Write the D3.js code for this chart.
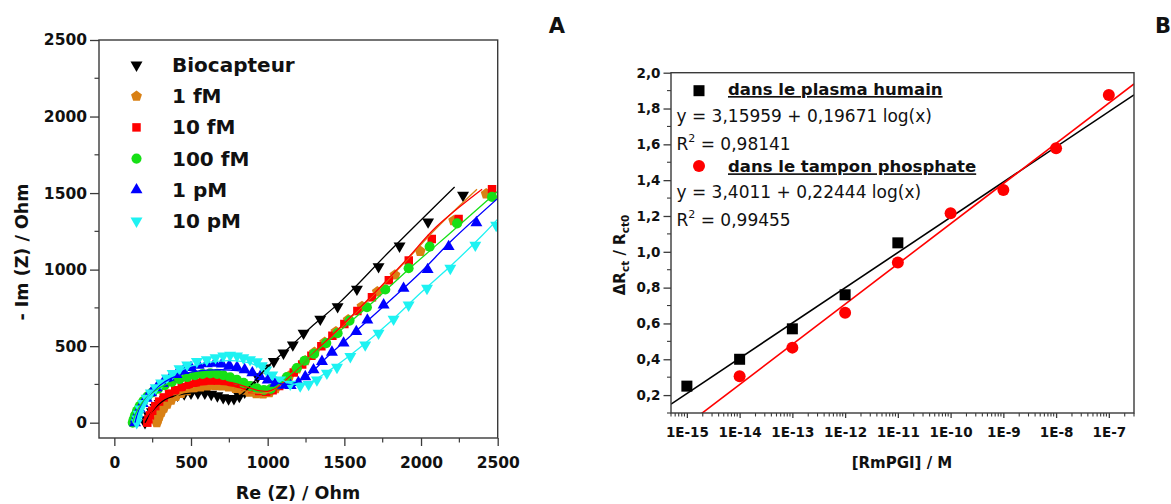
<!DOCTYPE html>
<html><head><meta charset="utf-8">
<script src="https://cdn.jsdelivr.net/npm/d3@7"></script>
<style>
html,body{margin:0;padding:0;background:#fff;}
svg{display:block;}
text{font-family:"DejaVu Sans",sans-serif;fill:#111;}
</style></head><body>
<svg id="chart" width="1171" height="504"></svg>
<script>
// ---------- Panel A data: Nyquist plots [Re(Z), -Im(Z)] ----------
const seriesNames = ["Biocapteur","1 fM","10 fM","100 fM","1 pM","10 pM"];
const seriesColors = ["#000000","#d98014","#ff0000","#16e016","#0000ff","#1ef2f2"];
const seriesSymbols = ["down","pentagon","square","circle","up","down"];

const bioData = [[200,0],[212,20],[226,45],[245,72],[268,100],[296,126],[330,150],[370,168],[412,180],[456,188],[500,193],[545,195],[590,193],[632,186],[672,176],[710,164],[745,156],[780,158],[815,172],[850,200],[890,245],[935,300],[984,357],[1040,400],[1103,455],[1164,508],[1234,585],[1343,676],[1456,758],[1582,872],[1723,1019],[1860,1154],[2046,1312],[2274,1486]];
const fmData1 = [[277,0],[283,20],[292,42],[305,68],[322,95],[344,122],[370,148],[400,172],[435,192],[475,210],[518,224],[562,234],[608,240],[655,242],[700,240],[745,234],[790,225],[835,213],[880,200],[925,190],[970,188],[1010,196],[1050,222],[1095,262],[1140,305],[1190,352],[1245,405],[1305,460],[1372,525],[1445,595],[1525,672],[1615,760],[1715,855],[1830,965],[1995,1120],[2213,1320],[2425,1495]];
const fmData10 = [[215,0],[222,22],[232,48],[247,78],[267,108],[292,138],[322,165],[357,190],[397,212],[440,232],[485,248],[532,261],[580,270],[628,275],[675,275],[720,270],[765,262],[810,250],[855,235],[900,220],[945,207],[990,202],[1032,212],[1075,240],[1120,280],[1170,328],[1225,380],[1285,438],[1350,500],[1422,568],[1500,645],[1585,730],[1680,820],[1790,930],[1920,1060],[2070,1200],[2245,1330],[2463,1525]];
const fmData100 = [[120,0],[126,22],[135,48],[148,78],[165,108],[188,140],[215,170],[248,198],[285,222],[328,245],[375,266],[425,284],[475,298],[525,310],[575,318],[625,322],[670,319],[711,310],[755,296],[799,280],[843,260],[886,240],[930,224],[975,214],[1020,220],[1065,250],[1125,298],[1190,357],[1240,405],[1303,450],[1382,520],[1456,585],[1534,667],[1647,754],[1767,870],[1919,1009],[2056,1150],[2235,1302],[2463,1475]];
const pmData1 = [[135,0],[140,25],[150,55],[165,90],[185,125],[210,160],[240,195],[275,228],[315,258],[360,288],[405,315],[450,340],[500,360],[550,375],[603,385],[655,388],[701,383],[750,374],[800,362],[850,346],[900,326],[951,302],[1000,278],[1050,258],[1100,245],[1150,242],[1200,262],[1245,300],[1299,345],[1354,400],[1419,460],[1495,520],[1578,595],[1650,670],[1756,769],[1886,878],[2043,1000],[2180,1150],[2361,1306]];
const pmData10 = [[146,0],[150,25],[158,55],[170,90],[188,125],[210,160],[238,195],[270,228],[305,260],[342,292],[380,322],[425,352],[475,378],[538,400],[603,412],[660,425],[710,436],[755,441],[800,436],[841,424],[885,412],[929,398],[962,372],[990,345],[1030,312],[1082,280],[1147,252],[1212,240],[1267,250],[1321,280],[1386,324],[1452,362],[1539,432],[1636,508],[1723,585],[1821,676],[1919,769],[2039,878],[2191,1009],[2354,1160],[2490,1290]];

// fitted curves
const bioFit = [[200,0],[245,72],[330,150],[456,188],[590,193],[700,168],[760,160],[820,178],[900,255],[1000,365],[1150,500],[1300,640],[1475,791],[1800,1125],[2219,1540]];
const fmFit1 = [[277,0],[305,68],[370,148],[475,210],[608,240],[700,240],[790,225],[880,202],[960,192],[1020,205],[1080,245],[1160,320],[1300,455],[1500,645],[1700,845],[1900,1055],[2100,1270],[2365,1525]];
const fmFit10 = [[215,0],[247,78],[322,165],[440,232],[580,270],[675,275],[765,262],[855,236],[940,210],[1000,205],[1060,230],[1140,300],[1300,455],[1500,650],[1700,850],[1900,1060],[2100,1280],[2398,1525]];
const fmFit100 = [[120,0],[148,78],[215,170],[328,245],[475,298],[625,322],[711,310],[799,280],[886,242],[975,218],[1040,228],[1125,295],[1300,450],[1500,625],[1700,800],[1900,985],[2100,1160],[2300,1335],[2496,1508]];
const pmFit1 = [[135,0],[165,90],[240,195],[360,285],[500,330],[650,345],[800,340],[900,318],[1000,280],[1080,255],[1160,255],[1250,300],[1400,440],[1600,620],[1800,800],[2000,985],[2200,1190],[2500,1465]];
const pmFit10 = [[146,0],[170,90],[238,195],[342,290],[475,360],[620,395],[760,405],[880,390],[980,345],[1080,285],[1180,250],[1260,258],[1400,340],[1600,490],[1800,660],[2000,850],[2200,1030],[2400,1225],[2500,1330]];

const seriesData = [bioData, fmData1, fmData10, fmData100, pmData1, pmData10];
const seriesFits = [bioFit, fmFit1, fmFit10, fmFit100, pmFit1, pmFit10];

const aTicks = [0,500,1000,1500,2000,2500];
const aMinor = [250,750,1250,1750,2250];

// ---------- Panel B data: calibration ----------
const concentrations = [1e-15,1e-14,1e-13,1e-12,1e-11,1e-10,1e-9,1e-8,1e-7];
const plasmaValues = [0.25,0.40,0.57,0.76,1.05];           // at first 5 concentrations
const bufferConc = [1e-14,1e-13,1e-12,1e-11,1e-10,1e-9,1e-8,1e-7];
const bufferValues = [0.305,0.465,0.66,0.94,1.215,1.345,1.578,1.875];
const plasmaFit = [3.15959, 0.19671];
const bufferFit = [3.4011, 0.22444];
const bYTicks = [0.2,0.4,0.6,0.8,1.0,1.2,1.4,1.6,1.8,2.0];
const bXTickLabels = ["1E-15","1E-14","1E-13","1E-12","1E-11","1E-10","1E-9","1E-8","1E-7"];

const svg = d3.select("#chart");
const FONT = "DejaVu Sans";

// custom pentagon symbol
const symbolPentagon = {
  draw(ctx, size){
    const r = Math.sqrt(size/2.378);
    for(let i=0;i<5;i++){
      const a = -Math.PI/2 + i*2*Math.PI/5;
      const px = r*Math.cos(a), py = r*Math.sin(a);
      if(i===0) ctx.moveTo(px,py); else ctx.lineTo(px,py);
    }
    ctx.closePath();
  }
};
function symbolPath(kind){
  if(kind==="down"||kind==="up") return d3.symbol(d3.symbolTriangle, 62)();
  if(kind==="pentagon") return d3.symbol(symbolPentagon, 78)();
  if(kind==="square") return d3.symbol(d3.symbolSquare, 72)();
  return d3.symbol(d3.symbolCircle, 80)();
}
function symTransform(kind,x,y){
  return `translate(${x},${y})` + (kind==="down" ? " rotate(180)" : "");
}

// ================= Panel A =================
const ax = d3.scaleLinear().domain([-100,2500]).range([99,497.7]);
const ay = d3.scaleLinear().domain([-100,2500]).range([438,40]);
const gA = svg.append("g");

gA.append("clipPath").attr("id","clipA").append("rect")
  .attr("x",99).attr("y",40).attr("width",398.7).attr("height",398);

const plotA = gA.append("g").attr("clip-path","url(#clipA)");
seriesData.forEach((data,i)=>{
  const col = seriesColors[i];
  plotA.append("g").selectAll("path").data(data).join("path")
    .attr("d", symbolPath(seriesSymbols[i]))
    .attr("transform", d=>symTransform(seriesSymbols[i], ax(d[0]), ay(d[1])))
    .attr("fill", col);
});
seriesFits.forEach((fit,i)=>{
  plotA.append("path")
    .attr("d", d3.line().x(d=>ax(d[0])).y(d=>ay(d[1])).curve(d3.curveCatmullRom)(fit))
    .attr("fill","none").attr("stroke", seriesColors[i]).attr("stroke-width",1.3);
});

// frame
gA.append("rect").attr("x",99).attr("y",40).attr("width",398.7).attr("height",398)
  .attr("fill","none").attr("stroke","#3a3a3a").attr("stroke-width",1.4);

// axes
const axA = gA.append("g").attr("transform","translate(0,438)")
  .call(d3.axisBottom(ax).tickValues(aTicks).tickSize(8).tickPadding(6).tickFormat(d3.format("d")));
const ayA = gA.append("g").attr("transform","translate(99,0)")
  .call(d3.axisLeft(ay).tickValues(aTicks).tickSize(9).tickPadding(3).tickFormat(d3.format("d")));
[axA, ayA].forEach(g=>{
  g.select(".domain").remove();
  g.selectAll(".tick line").attr("stroke","#3a3a3a").attr("stroke-width",1.3);
  g.selectAll(".tick text").attr("font-family",FONT).attr("font-weight","bold").attr("font-size",15.5).attr("fill","#111");
});
axA.selectAll(".tick text").attr("dy",null).attr("y",30);
gA.append("g").selectAll("line").data(aMinor).join("line")
  .attr("x1",d=>ax(d)).attr("x2",d=>ax(d)).attr("y1",438).attr("y2",442.5)
  .attr("stroke","#3a3a3a").attr("stroke-width",1.2);
gA.append("g").selectAll("line").data(aMinor).join("line")
  .attr("y1",d=>ay(d)).attr("y2",d=>ay(d)).attr("x1",99).attr("x2",94.5)
  .attr("stroke","#3a3a3a").attr("stroke-width",1.2);

// axis titles
gA.append("text").attr("x",298).attr("y",499).attr("text-anchor","middle")
  .attr("font-weight","bold").attr("font-size",17.5).text("Re (Z) / Ohm");
gA.append("text").attr("transform","translate(28,252) rotate(-90)").attr("text-anchor","middle")
  .attr("font-weight","bold").attr("font-size",17.5).text("- Im (Z) / Ohm");

// legend
seriesNames.forEach((name,i)=>{
  const yy = 65 + 31.2*i;
  gA.append("path").attr("d", symbolPath(seriesSymbols[i]))
    .attr("transform", symTransform(seriesSymbols[i],136.5,yy)).attr("fill",seriesColors[i]);
  gA.append("text").attr("x",172).attr("y",yy+7).attr("font-weight","bold")
    .attr("font-size",20).text(name);
});

// panel letters
svg.append("text").attr("x",557).attr("y",33).attr("text-anchor","middle")
  .attr("font-weight","bold").attr("font-size",21).text("A");
svg.append("text").attr("x",1163).attr("y",33).attr("text-anchor","middle")
  .attr("font-weight","bold").attr("font-size",21).text("B");

// ================= Panel B =================
const bx = d3.scaleLog().domain([5e-16,3e-7]).range([671,1134]);
const by = d3.scaleLinear().domain([0.1,2.0]).range([413,72.7]);
const gB = svg.append("g");
gB.append("clipPath").attr("id","clipB").append("rect")
  .attr("x",671).attr("y",72.7).attr("width",463).attr("height",340.3);
const plotB = gB.append("g").attr("clip-path","url(#clipB)");

const dom = bx.domain();
[[plasmaFit,"#000"],[bufferFit,"#ff0000"]].forEach(([c,col])=>{
  const pts = dom.map(v=>[v, c[0] + c[1]*Math.log10(v)]);
  plotB.append("line")
    .attr("x1",bx(pts[0][0])).attr("y1",by(pts[0][1]))
    .attr("x2",bx(pts[1][0])).attr("y2",by(pts[1][1]))
    .attr("stroke",col).attr("stroke-width",1.6);
});
plotB.append("g").selectAll("rect").data(plasmaValues).join("rect")
  .attr("x",(d,i)=>bx(concentrations[i])-5.5).attr("y",d=>by(d)-5.5)
  .attr("width",11).attr("height",11).attr("fill","#000");
plotB.append("g").selectAll("circle").data(bufferValues).join("circle")
  .attr("cx",(d,i)=>bx(bufferConc[i])).attr("cy",d=>by(d)).attr("r",6).attr("fill","#ff0000");

gB.append("rect").attr("x",671).attr("y",72.7).attr("width",463).attr("height",340.3)
  .attr("fill","none").attr("stroke","#3a3a3a").attr("stroke-width",1.4);

const bxAxis = gB.append("g").attr("transform","translate(0,413)")
  .call(d3.axisBottom(bx).tickValues(concentrations).tickSize(5).tickPadding(4)
    .tickFormat((d,i)=>bXTickLabels[i]));
const byAxis = gB.append("g").attr("transform","translate(671,0)")
  .call(d3.axisLeft(by).tickValues(bYTicks).tickSize(7.5).tickPadding(3)
    .tickFormat(d=>d3.format(".1f")(d).replace(".",",")));
[bxAxis, byAxis].forEach(g=>{
  g.select(".domain").remove();
  g.selectAll(".tick line").attr("stroke","#3a3a3a").attr("stroke-width",1.3);
  g.selectAll(".tick text").attr("font-family",FONT).attr("font-weight","bold").attr("font-size",13.5).attr("fill","#111");
});
bxAxis.selectAll(".tick text").attr("dy",null).attr("y",24);

// minor ticks
const minorX = [];
for(let e=-16;e<=-7;e++){ for(let m=2;m<=9;m++){ const v=m*Math.pow(10,e); if(v>=dom[0]&&v<=dom[1]) minorX.push(v);} }
gB.append("g").selectAll("line").data(minorX).join("line")
  .attr("x1",d=>bx(d)).attr("x2",d=>bx(d)).attr("y1",413).attr("y2",416.5)
  .attr("stroke","#3a3a3a").attr("stroke-width",1.1);
const minorY = [0.1,0.3,0.5,0.7,0.9,1.1,1.3,1.5,1.7,1.9];
gB.append("g").selectAll("line").data(minorY).join("line")
  .attr("y1",d=>by(d)).attr("y2",d=>by(d)).attr("x1",671).attr("x2",667)
  .attr("stroke","#3a3a3a").attr("stroke-width",1.1);

// axis titles
gB.append("text").attr("x",902).attr("y",468).attr("text-anchor","middle")
  .attr("font-weight","bold").attr("font-size",15).text("[RmPGI] / M");
const yt = gB.append("text").attr("transform","translate(625,255) rotate(-90)").attr("text-anchor","middle")
  .attr("font-weight","bold").attr("font-size",15);
yt.append("tspan").text("ΔR");
yt.append("tspan").attr("font-size",10.5).attr("dy",4).text("ct");
yt.append("tspan").attr("dy",-4).text(" / R");
yt.append("tspan").attr("font-size",10.5).attr("dy",4).text("ct0");

// legend / equations
gB.append("rect").attr("x",693.5).attr("y",85.2).attr("width",11).attr("height",11).attr("fill","#000");
gB.append("text").attr("x",728).attr("y",95).attr("font-weight","bold").attr("font-size",16.5)
  .attr("text-decoration","underline").text("dans le plasma humain");
gB.append("text").attr("x",676.5).attr("y",121.5).attr("font-size",17)
  .text("y = 3,15959 + 0,19671 log(x)");
const r1 = gB.append("text").attr("x",676.5).attr("y",150).attr("font-size",17);
r1.append("tspan").text("R");
r1.append("tspan").attr("font-size",11).attr("dy",-8).text("2");
r1.append("tspan").attr("dy",8).text(" = 0,98141");

gB.append("circle").attr("cx",699).attr("cy",166).attr("r",6).attr("fill","#ff0000");
gB.append("text").attr("x",728).attr("y",172.3).attr("font-weight","bold").attr("font-size",16.5)
  .attr("text-decoration","underline").text("dans le tampon phosphate");
gB.append("text").attr("x",676.5).attr("y",197.7).attr("font-size",17)
  .text("y = 3,4011 + 0,22444 log(x)");
const r2 = gB.append("text").attr("x",676.5).attr("y",225.7).attr("font-size",17);
r2.append("tspan").text("R");
r2.append("tspan").attr("font-size",11).attr("dy",-8).text("2");
r2.append("tspan").attr("dy",8).text(" = 0,99455");
</script>
</body></html>
